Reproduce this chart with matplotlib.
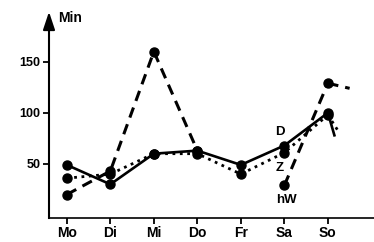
import matplotlib
matplotlib.use('Agg')
import matplotlib.pyplot as plt
import numpy as np

plt.rcParams['font.family'] = ['Liberation Sans', 'DejaVu Sans']

#
# DATA
#

days = ['Mo', 'Di', 'Mi', 'Do', 'Fr', 'Sa', 'So']
y_ticks = [50, 100, 150]

# D: solid line
d_values = [49, 30, 60, 63, 49, 68, 100]
d_tail = (6.15, 78)

# Z: dotted line
z_values = [36, 40, 60, 60, 40, 61, 98]
z_tail = (6.27, 80)

# hW: dashed line (gap between Do and Sa)
hw_values = [20, 43, 160, 63, np.nan, 29, 129]
hw_tail = (6.5, 124)

#
# PLOT
#

fig = plt.figure(figsize=(3.74, 2.42), dpi=100)
ax = fig.add_axes([49 / 374, (242 - 218) / 242, (374 - 49) / 374, (218 - 22) / 242])

x = np.arange(len(days))
mk = dict(marker='o', markersize=6.5, color='black')

# solid
ax.plot(x, d_values, '-', lw=1.9, **mk)
ax.plot([x[-1], d_tail[0]], [d_values[-1], d_tail[1]], '-', lw=1.9, color='black')

# dotted
ax.plot(x, z_values, ':', lw=2.0, **mk)
ax.plot([x[-1], z_tail[0]], [z_values[-1], z_tail[1]], ':', lw=2.0, color='black')

# dashed
hw_line, = ax.plot(x, hw_values, '--', lw=2.2, **mk)
hw_line.set_dashes([3.5, 2.3])
tail, = ax.plot([x[-1], hw_tail[0]], [hw_values[-1], hw_tail[1]], '--', lw=2.2, color='black')
tail.set_dashes([3.5, 2.3])

# series labels
ax.text(4.9, 81, 'D', fontsize=9.5, fontweight='bold', ha='center', va='center')
ax.text(4.9, 46, 'Z', fontsize=9.5, fontweight='bold', ha='center', va='center')
ax.text(5.05, 15, 'hW', fontsize=9.5, fontweight='bold', ha='center', va='center')

ax.set_xlim(-0.41, 7.06)
ax.set_ylim(-3, 189)

ax.set_xticks(x)
ax.set_xticklabels(days, fontsize=10, fontweight='bold')
ax.set_yticks(y_ticks)
ax.set_yticklabels([str(v) for v in y_ticks], fontsize=9, fontweight='bold')
ax.tick_params(axis='both', direction='out', length=4, width=1.3, pad=2)

for side in ['top', 'right']:
    ax.spines[side].set_visible(False)
ax.spines['left'].set_linewidth(1.5)
ax.spines['bottom'].set_linewidth(1.2)

# arrow head on top of the y axis
ax.annotate('', xy=(-0.41, 199), xytext=(-0.41, 187),
            arrowprops=dict(arrowstyle='-|>,head_length=0.6,head_width=0.2',
                            color='black', lw=1.5, mutation_scale=18, shrinkA=0, shrinkB=0),
            annotation_clip=False)
ax.text(-0.2, 193, 'Min', fontsize=10, fontweight='bold', ha='left', va='center')

fig.savefig('out.png', dpi=100)
